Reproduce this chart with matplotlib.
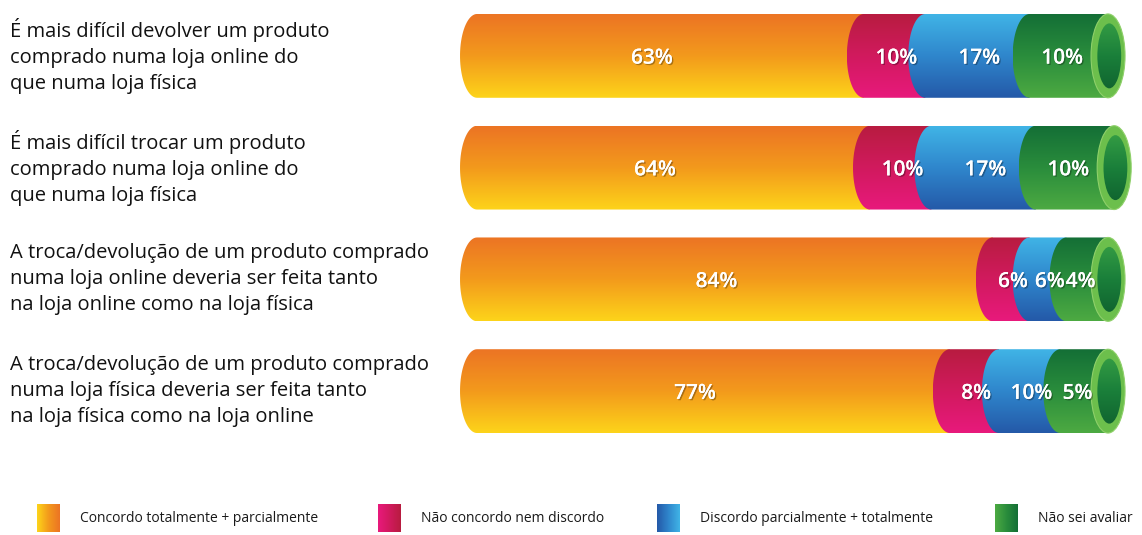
import numpy as np
import matplotlib
matplotlib.use("Agg")
import matplotlib.pyplot as plt
from matplotlib.path import Path
from matplotlib.patches import PathPatch, Ellipse
from matplotlib.colors import LinearSegmentedColormap
from matplotlib.transforms import blended_transform_factory
import matplotlib.patheffects as pe

plt.rcParams['font.family'] = ['Open Sans', 'DejaVu Sans']

# Statements (left labels)
statements = [
    "É mais difícil devolver um produto\ncomprado numa loja online do\nque numa loja física",
    "É mais difícil trocar um produto\ncomprado numa loja online do\nque numa loja física",
    "A troca/devolução de um produto comprado\nnuma loja online deveria ser feita tanto\nna loja online como na loja física",
    "A troca/devolução de um produto comprado\nnuma loja física deveria ser feita tanto\nna loja física como na loja online",
]

# Answer shares (%)
concordo = [63, 64, 84, 77]
neutro = [10, 10, 6, 8]
discordo = [17, 17, 6, 10]
nao_sei = [10, 10, 4, 5]

categories = ["Concordo totalmente + parcialmente", "Não concordo nem discordo",
              "Discordo parcialmente + totalmente", "Não sei avaliar"]

# top -> bottom gradient colours for each answer
grad_colors = [
    ["#ec7424", "#f39a1c", "#fdd41a"],
    ["#b81c40", "#d11a5e", "#e8197c"],
    ["#40b4e6", "#2f86cc", "#2459a8"],
    ["#146f36", "#2a8d3c", "#4daa42"],
]
cmaps = [LinearSegmentedColormap.from_list(f"c{i}", c) for i, c in enumerate(grad_colors)]

fig = plt.figure(figsize=(11.42, 5.35), dpi=100)
ax = fig.add_axes([440 / 1142, 1 - 447 / 535, 702 / 1142, 447 / 535])
XLIM = (-6.03, 108.3)
ax.axis("off")

h = 0.375      # half bar height
rx = 2.77      # cap half width (data units)
grad = np.linspace(0, 1, 256).reshape(-1, 1)


def seg_path(x0, x1, yc):
    # rectangle with a rounded (half ellipse) left end
    t = np.linspace(np.pi / 2, 3 * np.pi / 2, 40)
    xs = list(x0 + rx * np.cos(t)) + [x1, x1]
    ys = list(yc - h * np.sin(t)) + [yc + h, yc - h]
    verts = list(zip(xs, ys)) + [(xs[0], ys[0])]
    codes = [Path.MOVETO] + [Path.LINETO] * (len(verts) - 2) + [Path.CLOSEPOLY]
    return Path(verts, codes)


shadow = [pe.withSimplePatchShadow(offset=(1, -1), shadow_rgbFace="k", alpha=0.3), pe.Normal()]

data = np.array([concordo, neutro, discordo, nao_sei]).T
for i, row in enumerate(data):
    total = row.sum()
    left = 0
    for j, v in enumerate(row):
        x0, x1 = left, left + v
        end = x1 if j < len(row) - 1 else total + rx
        patch = PathPatch(seg_path(x0, end, i), facecolor="none", edgecolor="none")
        ax.add_patch(patch)
        im = ax.imshow(grad, cmap=cmaps[j], origin="lower", aspect="auto",
                       extent=(x0 - rx, end, i - h, i + h), zorder=1 + j)
        im.set_clip_path(patch)
        cx = (x0 + x1) / 2 + (0.3 if j > 0 else -3)
        ax.text(cx, i + 0.02, f"{v}%", color="white", fontsize=15, fontweight="semibold",
                ha="center", va="center", zorder=10, path_effects=shadow)
        left = x1
    # open tube end
    ax.add_patch(Ellipse((total + rx, i), 2 * rx, 2 * h, facecolor="#6cbf4c",
                         edgecolor="#8fd06a", lw=0.8, zorder=8))
    inner = Ellipse((total + rx + 0.2, i), 1.4 * rx, 1.55 * h, facecolor="none",
                    edgecolor="none", zorder=9)
    ax.add_patch(inner)
    im = ax.imshow(grad, cmap=LinearSegmentedColormap.from_list("in", ["#3aa346", "#1a7f3a", "#0e5e2d"]),
                   origin="lower", aspect="auto",
                   extent=(total, total + 2 * rx, i - h, i + h), zorder=9)
    im.set_clip_path(inner)

ax.set_xlim(*XLIM)
ax.set_ylim(3.5, -0.5)

trans = blended_transform_factory(fig.transFigure, ax.transData)
for i, s in enumerate(statements):
    ax.text(10 / 1142, i, s, transform=trans, ha="left", va="center",
            fontsize=14.5, color="#111111", linespacing=1.4)

# legend
lax = fig.add_axes([0, 0, 1, 60 / 535])
lax.axis("off")
leg_x = [37, 378, 657, 995]
for k, (lx, lab) in enumerate(zip(leg_x, categories)):
    g = np.linspace(0, 1, 64).reshape(1, -1)
    cm = LinearSegmentedColormap.from_list("l", grad_colors[k][::-1])
    lax.imshow(g, cmap=cm, aspect="auto", extent=(lx, lx + 23, 57, 29))
    lax.text(lx + 43, 43, lab, fontsize=10, ha="left", va="center", color="#1a1a1a")
lax.set_xlim(0, 1142)
lax.set_ylim(60, 0)

fig.savefig("out.png", dpi=100, facecolor="white")
